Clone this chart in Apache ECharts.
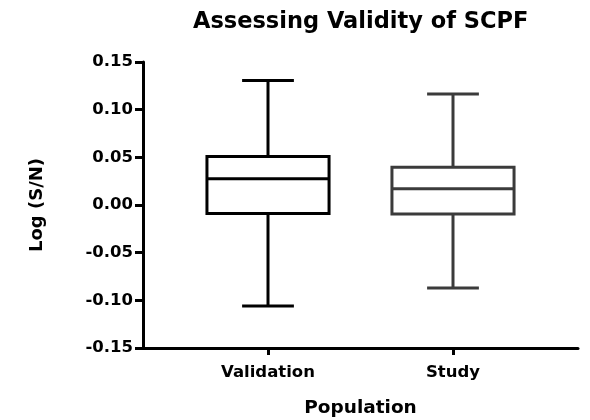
<!DOCTYPE html>
<html>
<head>
<meta charset="utf-8">
<script src="https://cdn.jsdelivr.net/npm/echarts@6/dist/echarts.min.js"></script>
<style>
html,body{margin:0;padding:0;background:#fff;}
#chartsBox{width:590px;height:420px;}
</style>
</head>
<body>
<div id="chartsBox"></div>
<script>
// data
var categories=['Validation','Study'];
var mins=[-0.106,-0.087];
var q1s=[-0.009,-0.0095];
var medians=[0.0275,0.017];
var q3s=[0.051,0.0395];
var maxs=[0.1305,0.1165];
var boxColors=['#000000','#3b3b3b'];

var boxData=[];
for(var i=0;i<categories.length;i++){
	boxData.push([i,mins[i],q1s[i],medians[i],q3s[i],maxs[i]]);
}

var fontName='"DejaVu Sans", Arial, sans-serif';

//box + whiskers with short caps
function renderBox(params,api){
	var x=api.value(0);
	var c=boxColors[params.dataIndex];
	var bw=0.33,cw=0.14;
	var pMin=api.coord([x,api.value(1)]);
	var pQ1=api.coord([x,api.value(2)]);
	var pMed=api.coord([x,api.value(3)]);
	var pQ3=api.coord([x,api.value(4)]);
	var pMax=api.coord([x,api.value(5)]);
	var bl=api.coord([x-bw,0])[0],br=api.coord([x+bw,0])[0];
	var cl=api.coord([x-cw,0])[0],cr=api.coord([x+cw,0])[0];
	var st={stroke:c,lineWidth:3,fill:null};
	return {
		type:'group',
		children:[
			{type:'line',shape:{x1:pMax[0],y1:pMax[1],x2:pQ3[0],y2:pQ3[1]},style:st},
			{type:'line',shape:{x1:pQ1[0],y1:pQ1[1],x2:pMin[0],y2:pMin[1]},style:st},
			{type:'line',shape:{x1:cl,y1:pMax[1],x2:cr,y2:pMax[1]},style:st},
			{type:'line',shape:{x1:cl,y1:pMin[1],x2:cr,y2:pMin[1]},style:st},
			{type:'rect',shape:{x:bl,y:pQ3[1],width:br-bl,height:pQ1[1]-pQ3[1]},style:{stroke:c,lineWidth:3,fill:'#fff'}},
			{type:'line',shape:{x1:bl,y1:pMed[1],x2:br,y2:pMed[1]},style:st}
		]
	};
}

var chartsBox=echarts.init(document.getElementById('chartsBox'));
var option={
	animation:false,
	title:{
		text:'Assessing Validity of SCPF',
		left:188,
		top:6,
		textStyle:{fontFamily:fontName,fontWeight:'bold',fontSize:22.5,color:'#000'}
	},
	grid:{left:143,right:12,top:62,bottom:72,outerBoundsMode:'none'},
	xAxis:{
		type:'value',
		min:-0.6757,
		max:1.6757,
		name:'Population',
		nameLocation:'middle',
		nameGap:51,
		nameTextStyle:{fontFamily:fontName,fontWeight:'bold',fontSize:18.5,color:'#000'},
		splitLine:{show:false},
		axisLine:{show:true,onZero:false,lineStyle:{color:'#000',width:3}},
		axisTick:{show:true,customValues:[0,1],length:7,lineStyle:{color:'#000',width:3}},
		axisLabel:{
			customValues:[0,1],
			margin:16,
			fontFamily:fontName,fontWeight:'bold',fontSize:16.5,color:'#000',
			formatter:function(v){return categories[Math.round(v)];}
		}
	},
	yAxis:{
		type:'value',
		min:-0.15,
		max:0.15,
		interval:0.05,
		name:'Log (S/N)',
		nameLocation:'middle',
		nameGap:97,
		nameTextStyle:{fontFamily:fontName,fontWeight:'bold',fontSize:18,color:'#000'},
		splitLine:{show:false},
		axisLine:{show:true,onZero:false,lineStyle:{color:'#000',width:3}},
		axisTick:{show:true,length:8,lineStyle:{color:'#000',width:3}},
		axisLabel:{
			margin:10,
			fontFamily:fontName,fontWeight:'bold',fontSize:16.5,color:'#000',
			formatter:function(v){return v.toFixed(2);}
		}
	},
	series:[{
		type:'custom',
		renderItem:renderBox,
		encode:{x:0,y:[1,2,3,4,5]},
		data:boxData
	}]
};
chartsBox.setOption(option);
</script>
</body>
</html>
